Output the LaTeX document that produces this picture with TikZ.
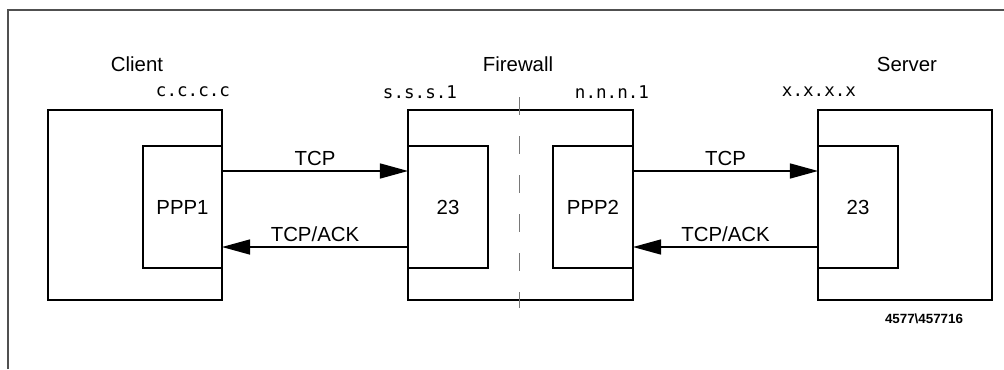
\documentclass[tikz,border=0pt]{standalone}
\usepackage{fontspec}
\setmainfont{Liberation Sans}
\newfontfamily\addrfont{DejaVu Sans Mono}
\usepackage{tikz}
\usetikzlibrary{arrows.meta,positioning}
\definecolor{FrameGray}{RGB}{80,80,80}
\definecolor{DashGray}{RGB}{120,120,120}

\begin{document}
\begin{tikzpicture}[
x=0.025cm,
y=-0.025cm,
host/.style={
draw,
line width=1.3pt,
minimum width=4.35cm,
minimum height=4.75cm,
inner sep=0pt,
outer sep=0pt
},
port/.style={
draw,
line width=1.3pt,
fill=white,
minimum width=2cm,
minimum height=3.05cm,
inner sep=0pt,
outer sep=0pt,
font=\fontsize{14.5}{16}\selectfont
},
title/.style={font=\fontsize{14.5}{16}\selectfont},
addr/.style={font=\addrfont\fontsize{12.5}{14}\selectfont},
msg/.style={above, font=\fontsize{14.5}{16}\selectfont},
arr/.style={line width=1pt, -{Triangle[length=7mm,width=3.75mm]}}
]

\useasboundingbox (0,0) rectangle (1004,369);

% frame
\draw[FrameGray, line width=0.8pt] (8,369) -- (8,10) -- (1004,10);

% hosts
\node[host] (client) at (135,205) {};
\node[host, minimum width=5.625cm] (fw) at (520.5,205) {};
\node[host] (server) at (905,205) {};

% firewall split
\draw[DashGray, line width=0.6pt, dash pattern=on 0.45cm off 0.525cm] (519,97) -- (519,308);

% ports
\node[port, minimum width=1.975cm] (ppp1) at (182.5,207) {PPP1};
\node[port] (fwport) at (448,207) {23};
\node[port] (ppp2) at (593,207) {PPP2};
\node[port] (srvport) at (858,207) {23};

% names
\node[title] (clientname) at (137,64) {Client};
\node[title] (fwname) at (518,64) {Firewall};
\node[title] (srvname) at (907,64) {Server};

% addresses
\node[addr] (clientaddr) at (193,92) {c.c.c.c};
\node[addr] (fwin) at (420,92) {s.s.s.1};
\node[addr] (fwout) at (612,92) {n.n.n.1};
\node[addr] (srvaddr) at (819,92) {x.x.x.x};

% traffic
\draw[arr] ([yshift=0.9cm]ppp1.east) -- ([yshift=0.9cm]fwport.west) node[msg, midway] {TCP};
\draw[arr] ([yshift=-1cm]fwport.west) -- ([yshift=-1cm]ppp1.east) node[msg, midway] {TCP/ACK};
\draw[arr] ([yshift=0.9cm]ppp2.east) -- ([yshift=0.9cm]srvport.west) node[msg, midway] {TCP};
\draw[arr] ([yshift=-1cm]srvport.west) -- ([yshift=-1cm]ppp2.east) node[msg, midway] {TCP/ACK};

\node[font=\fontsize{9.5}{10}\selectfont\bfseries] (figid) at (924,319) {4577\textbackslash 457716};

\end{tikzpicture}
\end{document}
